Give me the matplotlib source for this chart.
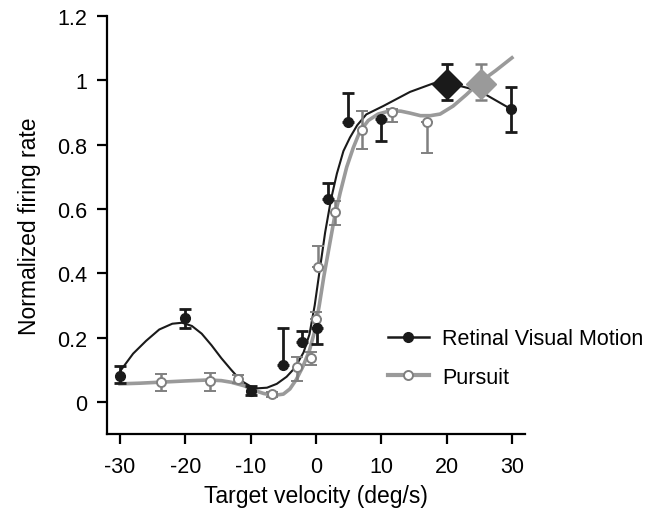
import matplotlib
matplotlib.use('Agg')
import matplotlib.pyplot as plt
from matplotlib.lines import Line2D
from matplotlib.ticker import FuncFormatter

plt.rcParams['font.family'] = ['Liberation Sans', 'DejaVu Sans']
plt.rcParams['axes.unicode_minus'] = False

# retinal visual motion data points (black)
retinal_vel = [-30, -20, -10, -5, -2.2, 0.1, 1.9, 4.9, 9.9, 29.8]
retinal_rate = [0.08, 0.26, 0.033, 0.115, 0.185, 0.23, 0.63, 0.87, 0.88, 0.91]
retinal_lo = [0.02, 0.03, 0.012, 0.0, 0.0, 0.05, 0.0, 0.0, 0.07, 0.07]
retinal_hi = [0.03, 0.03, 0.015, 0.115, 0.035, 0.0, 0.05, 0.09, 0.0, 0.07]
retinal_pref_vel = [20]
retinal_pref_rate = [0.99]
retinal_pref_lo = [0.05]
retinal_pref_hi = [0.06]

# pursuit data points (gray)
pursuit_vel = [-23.7, -16.3, -12, -6.8, -2.9, -0.8, 0, 0.35, 2.9, 7.0, 11.7, 17]
pursuit_rate = [0.063, 0.065, 0.071, 0.023, 0.108, 0.136, 0.258, 0.42, 0.59, 0.846, 0.90, 0.87]
pursuit_lo = [0.028, 0.03, 0.012, 0.008, 0.042, 0.02, 0.0, 0.0, 0.04, 0.06, 0.03, 0.095]
pursuit_hi = [0.024, 0.025, 0.012, 0.008, 0.032, 0.02, 0.022, 0.065, 0.035, 0.06, 0.01, 0.0]
pursuit_pref_vel = [25.3]
pursuit_pref_rate = [0.99]
pursuit_pref_lo = [0.05]
pursuit_pref_hi = [0.06]

# fitted curves
retinal_fit_x = [-30, -28, -26, -24, -22, -20.5, -19, -17.5, -16, -14.5, -13, -11.5, -10, -9,
                 -7.5, -6, -4.5, -3.5, -2.7, -1.9, -1.0, -0.2, 0.5, 1.4, 2.3, 3.2, 4.2, 5.2,
                 6.3, 7.7, 10.3, 14.4, 17.9, 20, 25, 29.9]
retinal_fit_y = [0.095, 0.15, 0.19, 0.225, 0.243, 0.246, 0.236, 0.212, 0.176, 0.136, 0.1, 0.066,
                 0.048, 0.042, 0.044, 0.056, 0.078, 0.1, 0.125, 0.154, 0.21, 0.30, 0.40, 0.527,
                 0.63, 0.71, 0.78, 0.822, 0.86, 0.894, 0.92, 0.964, 0.99, 0.993, 0.967, 0.91]

pursuit_fit_x = [-30, -27, -24, -20, -16.5, -14.5, -13, -11, -9.5, -8, -6.5, -5, -4, -3, -2, -1,
                 -0.2, 0.5, 1.2, 2.0, 2.8, 3.7, 4.7, 5.7, 6.7, 8.0, 9.5, 11.3, 13, 14.4, 16,
                 17.5, 19, 21, 23, 25, 27.5, 30]
pursuit_fit_y = [0.056, 0.058, 0.061, 0.065, 0.068, 0.066, 0.061, 0.05, 0.036, 0.026, 0.02, 0.024,
                 0.04, 0.07, 0.11, 0.16, 0.22, 0.30, 0.39, 0.48, 0.57, 0.65, 0.73, 0.79, 0.84,
                 0.875, 0.895, 0.905, 0.904, 0.898, 0.89, 0.89, 0.895, 0.92, 0.955, 0.993, 1.03, 1.07]

black = '#1a1a1a'
gray = '#9a9a9a'
dgray = '#808080'

fig = plt.figure(figsize=(6.47, 5.10), dpi=100)
ax = fig.add_axes([107 / 647, 75 / 510, 418 / 647, 418 / 510])

# fits
ax.plot(pursuit_fit_x, pursuit_fit_y, color=gray, lw=2.6, zorder=2)
ax.plot(retinal_fit_x, retinal_fit_y, color=black, lw=1.5, zorder=3)

# pursuit points
ax.errorbar(pursuit_vel, pursuit_rate, yerr=[pursuit_lo, pursuit_hi], fmt='o', ms=6.5,
            mfc='white', mec=dgray, mew=1.4, ecolor=dgray, elinewidth=1.8, capsize=4,
            capthick=1.8, zorder=4)
ax.errorbar(pursuit_pref_vel, pursuit_pref_rate, yerr=[pursuit_pref_lo, pursuit_pref_hi],
            fmt='D', ms=15, mfc=gray, mec=gray, ecolor=dgray, elinewidth=1.8, capsize=4,
            capthick=1.8, zorder=4)

# retinal points
ax.errorbar(retinal_vel, retinal_rate, yerr=[retinal_lo, retinal_hi], fmt='o', ms=7,
            mfc=black, mec=black, ecolor=black, elinewidth=2, capsize=4, capthick=2, zorder=5)
ax.errorbar(retinal_pref_vel, retinal_pref_rate, yerr=[retinal_pref_lo, retinal_pref_hi],
            fmt='D', ms=15, mfc=black, mec=black, ecolor=black, elinewidth=2, capsize=4,
            capthick=2, zorder=5)

ax.set_xlim(-32, 32)
ax.set_ylim(-0.1, 1.2)
ax.set_xticks([-30, -20, -10, 0, 10, 20, 30])
ax.set_yticks([0, 0.2, 0.4, 0.6, 0.8, 1.0, 1.2])
ax.yaxis.set_major_formatter(FuncFormatter(lambda v, p: '%g' % round(v, 2)))
ax.spines['top'].set_visible(False)
ax.spines['right'].set_visible(False)
ax.spines['left'].set_linewidth(1.6)
ax.spines['bottom'].set_linewidth(1.6)
ax.tick_params(direction='out', length=7, width=1.6, labelsize=15.5, pad=7)
ax.tick_params(axis='x', pad=9)
ax.set_xlabel('Target velocity (deg/s)', fontsize=16.5, labelpad=5)
ax.set_ylabel('Normalized firing rate', fontsize=16.5, labelpad=12)

handles = [
    Line2D([], [], color=black, lw=1.8, marker='o', ms=7, mfc=black, mec=black),
    Line2D([], [], color=gray, lw=3, marker='o', ms=6.5, mfc='white', mec=dgray, mew=1.4),
]
ax.legend(handles, ['Retinal Visual Motion', 'Pursuit'], loc='center left',
          bbox_to_anchor=(388 / 647, 151 / 510), bbox_transform=fig.transFigure,
          frameon=False, fontsize=15.5, handlelength=1.9, handletextpad=0.6,
          labelspacing=0.8, borderpad=0, borderaxespad=0)

plt.savefig('out.png', dpi=100)
